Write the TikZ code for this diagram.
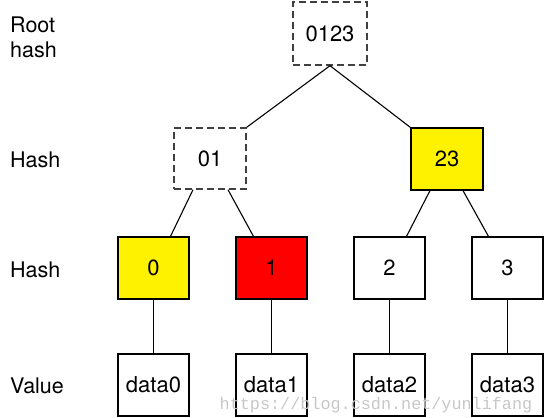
\documentclass[tikz,border=0pt]{standalone}
\usepackage{fontspec}
\setmainfont{TeX Gyre Heros}
\newfontfamily\wmfont{Liberation Mono}
\begin{document}
\begin{tikzpicture}[x=1pt,y=-1pt,
  box/.style={draw, line width=1.2pt, minimum width=71pt, minimum height=62pt, inner sep=0pt, font=\fontsize{22}{26}\selectfont},
  dbox/.style={box, draw=black!75, line width=1.4pt, dash pattern=on 7pt off 4pt},
  lbl/.style={anchor=west, align=left, inner sep=0pt, font=\fontsize{21.5}{25}\selectfont},
  edge/.style={line width=1.1pt}]
\useasboundingbox (0,0) rectangle (544,418);
% labels
\node[lbl] (lroot) at (10,37) {Root\\hash};
\node[lbl] (lh1) at (10,160) {Hash};
\node[lbl] (lh2) at (10,270) {Hash};
\node[lbl] (lval) at (10,386) {Value};
% tree
\node[dbox, minimum width=74pt, minimum height=63pt] (r) at (330,33.5) {0123};
\node[dbox, minimum width=72pt, minimum height=61pt] (n01) at (210,158.5) {01};
\node[box, fill=yellow, minimum width=72pt] (n23) at (447,159) {23};
\node[box, fill=yellow] (h0) at (153.5,268) {0};
\node[box, fill=red] (h1) at (271.5,268) {1};
\node[box] (h2) at (389.5,268) {2};
\node[box] (h3) at (507.5,268) {3};
\node[box] (d0) at (153.5,385) {data0};
\node[box] (d1) at (271.5,385) {data1};
\node[box] (d2) at (389.5,385) {data2};
\node[box] (d3) at (507.5,385) {data3};
% edges
\draw[edge] (r.south) -- (n01.north east);
\draw[edge] (r.south) -- (n23.north west);
\draw[edge] ([xshift=-17pt]n01.south) -- ([xshift=17pt]h0.north);
\draw[edge] ([xshift=18pt]n01.south) -- ([xshift=-18pt]h1.north);
\draw[edge] ([xshift=-17pt]n23.south) -- ([xshift=17pt]h2.north);
\draw[edge] ([xshift=16pt]n23.south) -- ([xshift=-19pt]h3.north);
\draw[edge] (h0) -- (d0);
\draw[edge] (h1) -- (d1);
\draw[edge] (h2) -- (d2);
\draw[edge] (h3) -- (d3);
% watermark
\node[text=black!22, font=\wmfont\fontsize{16.8}{18}\selectfont, inner sep=0pt] (wm) at (376,405) {https://blog.csdn.net/yunlifang};
\end{tikzpicture}
\end{document}
